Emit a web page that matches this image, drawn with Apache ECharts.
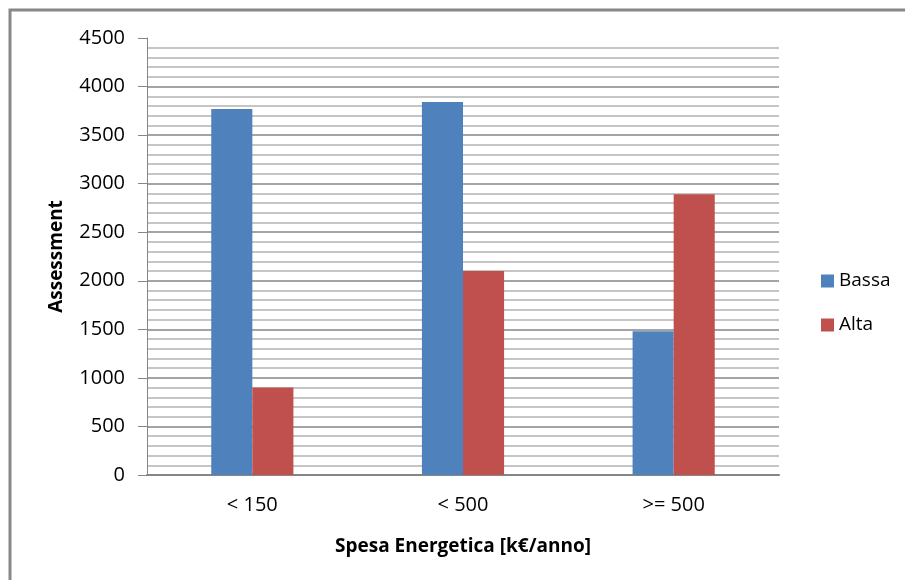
<!DOCTYPE html>
<html>
<head>
<meta charset="utf-8">
<script src="https://cdn.jsdelivr.net/npm/echarts@6/dist/echarts.min.js"></script>
<style>html,body{margin:0;padding:0;background:#fff}#c{width:905px;height:580px}</style>
</head>
<body>
<div id="c"></div>
<script>
const categories = ['< 150', '< 500', '>= 500'];
const bassa = [3770, 3840, 1480];
const alta = [900, 2100, 2890];
const seriesNames = ['Bassa', 'Alta'];
const yTicks = [0, 500, 1000, 1500, 2000, 2500, 3000, 3500, 4000, 4500];

const chart = echarts.init(document.getElementById('c'));
const font = '"Open Sans", "Noto Sans", sans-serif';
const majorColors = yTicks.map((v, i) => i === yTicks.length - 1 ? 'rgba(0,0,0,0)' : '#868686');
chart.setOption({
  animation: false,
  backgroundColor: '#fff',
  textStyle: { fontFamily: font },
  graphic: [{
    type: 'rect', shape: { x: 10, y: 10, width: 1000, height: 1000 },
    style: { fill: 'none', stroke: '#888888', lineWidth: 3 }, z: 100
  }],
  grid: { left: 147, top: 38, right: 126, bottom: 105 },
  legend: {
    orient: 'vertical', left: 816, top: 266,
    itemWidth: 13, itemHeight: 13, itemGap: 24,
    icon: 'rect',
    data: seriesNames,
    textStyle: { fontFamily: font, fontSize: 19, color: '#000', lineHeight: 20, padding: [0, 0, 0, 0] }
  },
  xAxis: {
    type: 'category', data: categories,
    name: 'Spesa Energetica [k€/anno]', nameLocation: 'middle', nameGap: 62,
    nameTextStyle: { fontFamily: font, fontSize: 19, fontWeight: 'bold', color: '#000' },
    axisLine: { lineStyle: { color: '#868686', width: 2 } },
    axisTick: { show: false },
    axisLabel: { fontFamily: font, fontSize: 20, color: '#000', margin: 20 }
  },
  yAxis: {
    type: 'value', min: 0, max: 4500, interval: 500,
    name: 'Assessment', nameLocation: 'middle', nameGap: 81,
    nameTextStyle: { fontFamily: font, fontSize: 19, fontWeight: 'bold', color: '#000' },
    axisLine: { show: true, lineStyle: { color: '#868686', width: 1 } },
    axisTick: { show: true, length: 9, lineStyle: { color: '#868686' } },
    axisLabel: { fontFamily: font, fontSize: 20, color: '#000', margin: 22, formatter: v => String(v) },
    splitLine: { show: true, lineStyle: { color: majorColors, width: 1.5 } },
    minorTick: { show: false, splitNumber: 5 },
    minorSplitLine: { show: true, lineStyle: { color: '#b3b3b3', width: 1.5 } }
  },
  series: [
    { name: seriesNames[0], type: 'bar', data: bassa, itemStyle: { color: '#4F81BD' }, barGap: '0%', barCategoryGap: '61%' },
    { name: seriesNames[1], type: 'bar', data: alta, itemStyle: { color: '#C0504D' }, barGap: '0%', barCategoryGap: '61%' }
  ]
});
</script>
</body>
</html>
